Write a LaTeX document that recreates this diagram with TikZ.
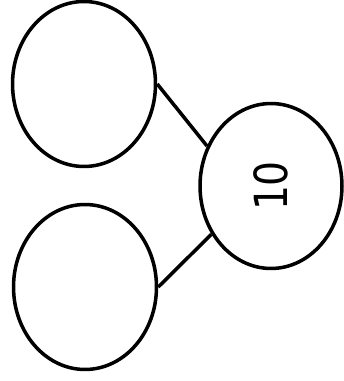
\documentclass[tikz,border=0pt]{standalone}
\usepackage{fontspec}
\setmainfont{DejaVu Sans}
\usepackage{graphicx}
\usetikzlibrary{shapes.geometric}
\begin{document}
\begin{tikzpicture}[x=0.02cm,y=-0.02cm,
        bond/.style={draw,ellipse,line width=2pt,inner sep=0pt,minimum width=2.86cm,minimum height=3.3cm}]
                \useasboundingbox (0,0) rectangle (343,381);
                \node [bond] (upper) at (84,84) {};
                \node [bond] (lower) at (85,287) {};
                \node [bond,minimum width=2.84cm,font=\fontsize{26}{26}\selectfont] (whole) at (271,186) {\rotatebox{90}{\scalebox{0.86}[1]{10}}};
                \draw [line width=2pt] (upper.east) -- (whole.148);
                \draw [line width=2pt] (lower.east) -- (whole.219);
            \end{tikzpicture}
\end{document}
